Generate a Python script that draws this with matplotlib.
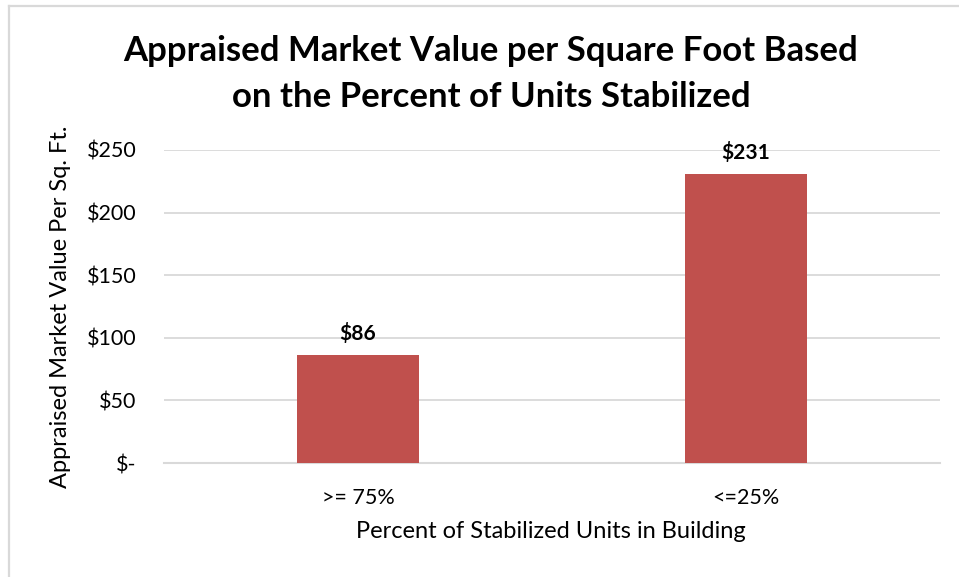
import matplotlib.pyplot as plt
from matplotlib.lines import Line2D

categories = [">= 75%", "<=25%"]
values = [86, 231]
yticks = [0, 50, 100, 150, 200, 250]
ytick_labels = ["$-", "$50", "$100", "$150", "$200", "$250"]

plt.rcParams['font.family'] = ['Lato', 'DejaVu Sans']

fig = plt.figure(figsize=(9.59, 5.77), dpi=100)
ax = fig.add_axes([164 / 959, 1 - 463 / 577, 776 / 959, 313 / 577])

x = range(len(categories))
ax.bar(x, values, width=0.317, color="#C0504D", zorder=3)
ax.set_xlim(-0.5, len(categories) - 0.5)
ax.set_ylim(0, 250)

for xi, v in zip(x, values):
    ax.annotate("$%d" % v, (xi, v), xytext=(0, 8), textcoords="offset points",
                ha="center", va="bottom", fontsize=15, fontweight="bold")

ax.set_yticks(yticks)
ax.set_yticklabels(ytick_labels, fontsize=15.5)
ax.set_xticks(list(x))
ax.set_xticklabels(categories, fontsize=15.5)
ax.tick_params(length=0)
ax.tick_params(axis="y", pad=20)
ax.tick_params(axis="x", pad=18)
ax.grid(axis="y", color="#d9d9d9", linewidth=1.3, zorder=0)
for s in ["top", "right", "left"]:
    ax.spines[s].set_visible(False)
ax.spines["bottom"].set_color("#d9d9d9")
ax.spines["bottom"].set_linewidth(1.5)

ax.set_ylabel("Appraised Market Value Per Sq. Ft.", fontsize=17, va="center")
ax.yaxis.set_label_coords(-0.134, 0.5)
ax.set_xlabel("Percent of Stabilized Units in Building", fontsize=17, va="center")
ax.xaxis.set_label_coords(0.499, -0.219)

fig.text(0.512, 1 - 74 / 577, "Appraised Market Value per Square Foot Based\non the Percent of Units Stabilized",
         ha="center", va="center", fontsize=25, fontweight="bold", linespacing=1.52)

# chart frame (top and left edges)
fig.add_artist(Line2D([9 / 959, 9 / 959], [0, 1 - 6 / 577], color="#d9d9d9", linewidth=1.6,
                      transform=fig.transFigure))
fig.add_artist(Line2D([9 / 959, 958 / 959], [1 - 6 / 577, 1 - 6 / 577], color="#d9d9d9",
                      linewidth=1.6, transform=fig.transFigure))

fig.savefig("out.png", dpi=100)
